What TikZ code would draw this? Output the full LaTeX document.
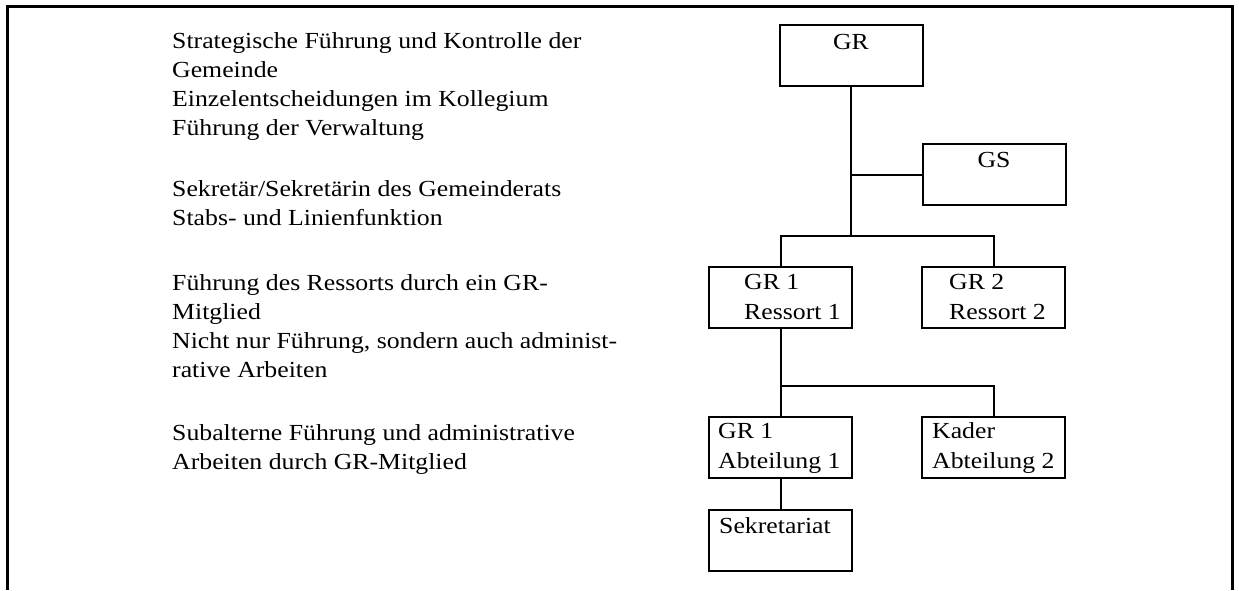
\documentclass[tikz,border=0pt]{standalone}
\usepackage{fontspec}
\setmainfont{Liberation Serif}[FakeStretch=1.12]
\usetikzlibrary{positioning}

\begin{document}
\begin{tikzpicture}[x=1pt, y=-1pt,
  box/.style={draw, line width=2pt, minimum width=143pt, minimum height=61pt, inner sep=0pt, outer sep=0pt},
  txt/.style={anchor=base west, inner sep=0pt, align=left, font=\fontsize{23}{29}\selectfont},
  boxtxt/.style={txt, font=\fontsize{23}{30}\selectfont},
  link/.style={line width=2pt},
]
  \useasboundingbox (0,0) rectangle (1239,590);
  \draw[line width=3pt] (7.5,590) -- (7.5,6.5) -- (1232.5,6.5) -- (1232.5,590);

  % Aufgaben, linke Spalte (Anker: Grundlinie der letzten Zeile)
  \node[txt] (aufgGR) at (172,135) {Strategische Führung und Kontrolle der\\Gemeinde\\Einzelentscheidungen im Kollegium\\Führung der Verwaltung};
  \node[txt] (aufgGS) at (172,225) {Sekretär/Sekretärin des Gemeinderats\\Stabs- und Linienfunktion};
  \node[txt] (aufgRes) at (172,377) {Führung des Ressorts durch ein GR-\\Mitglied\\Nicht nur Führung, sondern auch administ-\\rative Arbeiten};
  \node[txt] (aufgAbt) at (172,469) {Subalterne Führung und administrative\\Arbeiten durch GR-Mitglied};

  % Organigramm
  \node[box] (gr) at (851,55.5) {};
  \node[box, below right=58pt and 0pt of gr] (gs) {};
  \node[box] (gr1) at (780.5,297.5) {};
  \node[box, right=70pt of gr1] (gr2) {};
  \node[box, below=89pt of gr1] (abt1) {};
  \node[box, right=70pt of abt1] (abt2) {};
  \node[box, below=32pt of abt1] (sek) {};

  \node[boxtxt, anchor=base] (grT) at ([yshift=-24pt]gr.north) {GR};
  \node[boxtxt, anchor=base] (gsT) at ([yshift=-23pt]gs.north) {GS};
  \node[boxtxt] (gr1T) at ([shift={(35pt,-52pt)}]gr1.north west) {GR 1\\Ressort 1};
  \node[boxtxt] (gr2T) at ([shift={(27pt,-52pt)}]gr2.north west) {GR 2\\Ressort 2};
  \node[boxtxt] (abt1T) at ([shift={(9pt,-51.5pt)}]abt1.north west) {GR 1\\Abteilung 1};
  \node[boxtxt] (abt2T) at ([shift={(10pt,-51.5pt)}]abt2.north west) {Kader\\Abteilung 2};
  \node[boxtxt] (sekT) at ([shift={(10pt,-23pt)}]sek.north west) {Sekretariat};

  \coordinate (fork1) at (851,236);
  \coordinate (fork2) at (780.5,386);
  \coordinate (gsjoin) at (gr.south |- gs.west);

  \draw[link] (gr) -- (fork1);
  \draw[link] (gsjoin) -- (gs);
  \draw[link] (gr1) |- (fork1) -| (gr2);
  \draw[link] (gr1) -- (abt1);
  \draw[link] (fork2) -| (abt2);
  \draw[link] (abt1) -- (sek);
\end{tikzpicture}
\end{document}
